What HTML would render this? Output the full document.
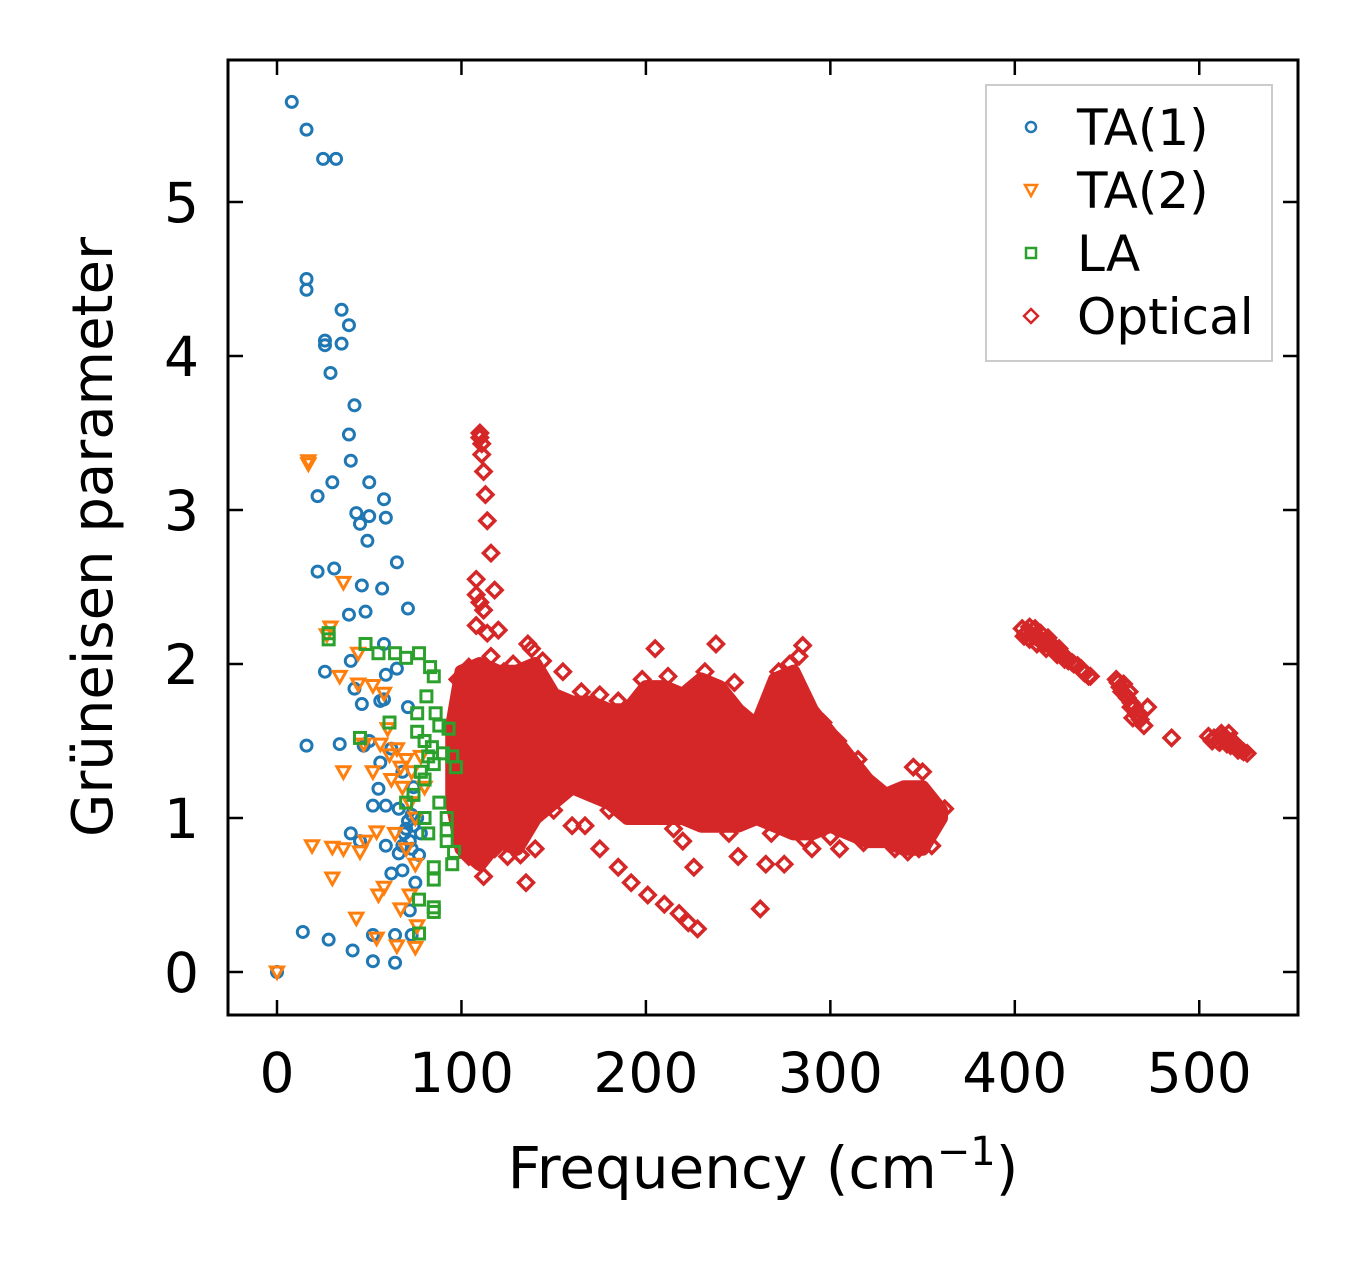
<!DOCTYPE html>
<html><head><meta charset="utf-8"><style>
body{margin:0;background:#fff}
svg{display:block;font-family:"DejaVu Sans","Liberation Sans",sans-serif}
</style></head><body>
<div style="position:relative;width:1357px;height:1264px">
<svg id="chart" width="1357" height="1264" viewBox="0 0 1357 1264" style="position:absolute;left:0;top:0">
<g id="plot"></g>
<g id="axes"></g>
</svg>
<svg width="1357" height="1264" style="position:absolute;left:0;top:0;font-family:'DejaVu Sans','Liberation Sans',sans-serif">
<text x="763" y="1188" text-anchor="middle" font-size="58">Frequency (cm<tspan dy="-23" font-size="40">−1</tspan><tspan dy="23">)</tspan></text>
<text transform="translate(112,537) rotate(-90)" text-anchor="middle" font-size="56">Grüneisen parameter</text>
<g>
<rect x="986" y="85" width="286" height="276" fill="#fff" fill-opacity="0.8" stroke="#ccc" stroke-width="2"/>
<circle cx="1031" cy="127" r="5" fill="none" stroke="#1f77b4" stroke-width="2.5"/>
<text x="1077" y="145" font-size="50">TA(1)</text>
<path d="M1025,185L1037,185L1031,196Z" fill="none" stroke="#ff7f0e" stroke-width="2.5"/>
<text x="1077" y="208" font-size="50">TA(2)</text>
<rect x="1026" y="248" width="10" height="10" fill="none" stroke="#2ca02c" stroke-width="2.5"/>
<text x="1077" y="271" font-size="50">LA</text>
<path d="M1031,309L1038,316L1031,323L1024,316Z" fill="none" stroke="#d62728" stroke-width="2.5"/>
<text x="1077" y="334" font-size="50">Optical</text>
</g>
</svg>
</div>
<script>
const xTicks=[0,100,200,300,400,500];
const yTicks=[0,1,2,3,4,5];
const ta1=[[8,5.65],[16,5.47],[25,5.28],[32,5.28],[16,4.5],[16,4.43],[35,4.3],[39,4.2],[26,4.1],[26,4.07],[35,4.08],[29,3.89],[42,3.68],[39,3.49],[40,3.32],[22,3.09],[30,3.18],[50,3.18],[58,3.07],[43,2.98],[45,2.91],[50,2.96],[59,2.95],[49,2.8],[65,2.66],[22,2.6],[31,2.62],[46,2.51],[57,2.49],[71,2.36],[39,2.32],[48,2.34],[58,2.13],[40,2.02],[59,1.93],[26,1.95],[65,1.97],[42,1.84],[56,1.76],[16,1.47],[34,1.48],[46,1.74],[58,1.77],[47,1.47],[71,1.72],[55,1.19],[59,1.08],[69,0.9],[45,0.85],[59,0.82],[40,0.9],[52,1.08],[66,1.06],[73,0.8],[77,0.76],[62,0.64],[68,0.66],[72,0.4],[52,0.24],[64,0.24],[73,0.24],[14,0.26],[28,0.21],[41,0.14],[52,0.07],[64,0.06],[0,0],[74,0.95],[76,1.0],[72,0.85],[68,1.3],[74,1.2],[62,1.45],[66,0.77],[78,0.9],[50,1.5],[56,1.36],[71,0.98],[75,0.58],[70,0.93],[73,1.02],[68,0.82]];
const ta2=[[17,3.32],[17,3.3],[36,2.53],[29,2.24],[27,2.19],[44,2.07],[34,1.92],[44,1.87],[52,1.86],[58,1.81],[60,1.58],[47,1.48],[56,1.48],[61,1.41],[65,1.45],[67,1.33],[70,1.38],[73,1.3],[36,1.3],[52,1.3],[62,1.25],[68,1.2],[72,1.1],[75,1.0],[19,0.82],[30,0.81],[36,0.8],[45,0.78],[48,0.85],[54,0.91],[58,0.55],[55,0.5],[30,0.61],[43,0.35],[67,0.41],[72,0.5],[54,0.22],[65,0.17],[75,0.16],[76,0.3],[75,0.7],[70,0.8],[64,0.9],[80,1.2],[78,1.4],[0,0]];
const la=[[28,2.2],[28,2.16],[48,2.13],[55,2.07],[64,2.07],[70,2.04],[77,2.07],[83,1.98],[85,1.92],[81,1.79],[76,1.68],[86,1.68],[88,1.6],[93,1.58],[76,1.56],[80,1.5],[84,1.46],[45,1.52],[61,1.62],[82,1.4],[85,1.35],[78,1.3],[90,1.42],[95,1.4],[97,1.33],[80,1.25],[88,1.1],[80,1.0],[92,1.0],[92,0.92],[92,0.85],[82,0.9],[96,0.78],[95,0.7],[85,0.68],[85,0.6],[85,0.42],[85,0.39],[77,0.25],[77,0.47],[70,1.1],[74,1.15]];
const bandX=[95,100,110,120,130,140,150,160,170,180,190,200,210,220,230,240,250,260,270,280,290,300,310,320,330,340,350,360];
const bandHi=[1.6,1.95,2.0,1.95,1.95,2.0,1.8,1.75,1.75,1.7,1.7,1.85,1.85,1.8,1.9,1.85,1.7,1.6,1.9,1.95,1.7,1.55,1.4,1.25,1.15,1.2,1.2,1.05];
const bandLo=[1.1,0.8,0.7,0.85,0.8,1.0,1.1,1.2,1.15,1.1,1.0,1.0,1.0,1.0,0.95,0.95,0.95,1.0,0.95,0.9,0.9,0.95,0.9,0.85,0.85,0.8,0.8,1.0];
const optical=[[110,3.5],[110,3.47],[111,3.43],[111,3.36],[112,3.25],[113,3.1],[114,2.93],[116,2.72],[118,2.48],[108,2.55],[110,2.4],[108,2.45],[112,2.35],[108,2.25],[114,2.2],[120,2.22],[136,2.13],[138,2.1],[205,2.1],[238,2.13],[285,2.12],[283,2.05],[123,1.95],[135,0.58],[160,0.95],[167,0.95],[175,0.8],[185,0.68],[192,0.58],[201,0.5],[210,0.44],[218,0.38],[223,0.32],[228,0.28],[262,0.41],[250,0.75],[265,0.7],[275,0.7],[290,0.8],[305,0.8],[112,0.62],[125,0.75],[140,0.8],[155,1.95],[175,1.8],[220,0.85],[226,0.68],[345,1.33],[350,1.3],[355,1.1],[362,1.06],[355,0.82],[348,0.8],[98,1.9],[100,1.8],
[104,1.98],[116,2.05],[128,2.0],[144,2.02],[165,1.82],[185,1.76],[198,1.9],[212,1.92],[232,1.95],[248,1.88],[272,1.95],[278,2.0],[296,1.62],[304,1.5],[315,1.38],[104,0.75],[118,0.8],[132,0.76],[150,1.05],[180,1.05],[215,0.93],[245,0.9],[268,0.9],[286,0.86],[300,0.88],[318,0.84],[335,0.8],[342,0.78],
[404,2.23],[406,2.2],[408,2.24],[408,2.16],[410,2.22],[411,2.18],[412,2.13],[414,2.2],[415,2.15],[417,2.1],[418,2.17],[420,2.12],[422,2.08],[424,2.1],[426,2.05],[428,2.04],[431,2.01],[434,1.99],[437,1.95],[440,1.92],[405,2.18],[407,2.21],[409,2.19],[411,2.23],[413,2.16],[416,2.13],[419,2.14],[421,2.1],[423,2.06],[425,2.07],[427,2.03],[429,2.02],[432,2.0],[436,1.97],[438,1.94],[441,1.92],
[455,1.9],[457,1.85],[459,1.87],[460,1.8],[462,1.82],[463,1.75],[465,1.72],[466,1.68],[468,1.64],[470,1.6],[464,1.65],[472,1.72],[456,1.88],[458,1.82],[461,1.78],[463,1.72],[467,1.66],[485,1.52],[505,1.53],[508,1.52],[510,1.5],[513,1.53],[515,1.48],[518,1.5],[520,1.46],[522,1.45],[524,1.43],[526,1.42],[512,1.55],[516,1.55],[507,1.5],[511,1.49],[514,1.5],[517,1.47],[519,1.48],[521,1.44],[523,1.44]];
const X=v=>277+v*1.8445, Y=v=>972-v*154;
const NS="http://www.w3.org/2000/svg";
const plot=document.getElementById('plot'), axes=document.getElementById('axes');
function mk(tag,attrs,parent){const e=document.createElementNS(NS,tag);for(const k in attrs)e.setAttribute(k,attrs[k]);parent.appendChild(e);return e;}
const defs=mk('defs',{},plot);const cp=mk('clipPath',{id:'clip'},defs);mk('rect',{x:228,y:60,width:1070,height:955},cp);
const g=mk('g',{'clip-path':'url(#clip)'},plot);
function marker(kind,x,y,color,parent){
  if(kind==='circle')return mk('circle',{cx:x,cy:y,r:5.5,fill:'none',stroke:color,'stroke-width':3},parent);
  if(kind==='tri')return mk('path',{d:`M${x-6.5},${y-5}L${x+6.5},${y-5}L${x},${y+6.5}Z`,fill:'none',stroke:color,'stroke-width':3},parent);
  if(kind==='sq')return mk('rect',{x:x-5.5,y:y-5.5,width:11,height:11,fill:'none',stroke:color,'stroke-width':3},parent);
  return mk('path',{d:`M${x},${y-7.5}L${x+7.5},${y}L${x},${y+7.5}L${x-7.5},${y}Z`,fill:'none',stroke:color,'stroke-width':3.5},parent);
}
let d='M'+bandX.map((v,i)=>X(v)+','+Y(bandHi[i])).join('L');
for(let i=bandX.length-1;i>=0;i--)d+='L'+X(bandX[i])+','+Y(bandLo[i]);
d+='Z';
const band=mk('path',{d:d,fill:'#d62728',stroke:'#d62728','stroke-width':14,'stroke-linejoin':'round'},g);


const sets=[[ta1,'circle','#1f77b4','ta1-point'],[ta2,'tri','#ff7f0e','ta2-point'],[la,'sq','#2ca02c','la-point'],[optical,'dia','#d62728','optical-point']];
sets.forEach(([arr,k,c,n])=>arr.forEach(p=>{const e=marker(k,X(p[0]),Y(p[1]),c,g);

}));
mk('rect',{x:228,y:60,width:1070,height:955,fill:'none',stroke:'#000','stroke-width':3},axes);
xTicks.forEach(t=>{const x=X(t);
mk('line',{x1:x,y1:1015,x2:x,y2:1000,stroke:'#000','stroke-width':2.5},axes);
mk('line',{x1:x,y1:60,x2:x,y2:75,stroke:'#000','stroke-width':2.5},axes);
const tx=mk('text',{x:x,y:1092,'text-anchor':'middle','font-size':55},axes);tx.textContent=t;

});
yTicks.forEach(t=>{const y=Y(t);
mk('line',{x1:228,y1:y,x2:243,y2:y,stroke:'#000','stroke-width':2.5},axes);
mk('line',{x1:1298,y1:y,x2:1283,y2:y,stroke:'#000','stroke-width':2.5},axes);
const tx=mk('text',{x:199,y:y+20,'text-anchor':'end','font-size':55},axes);tx.textContent=t;

});
</script>
</body></html>
